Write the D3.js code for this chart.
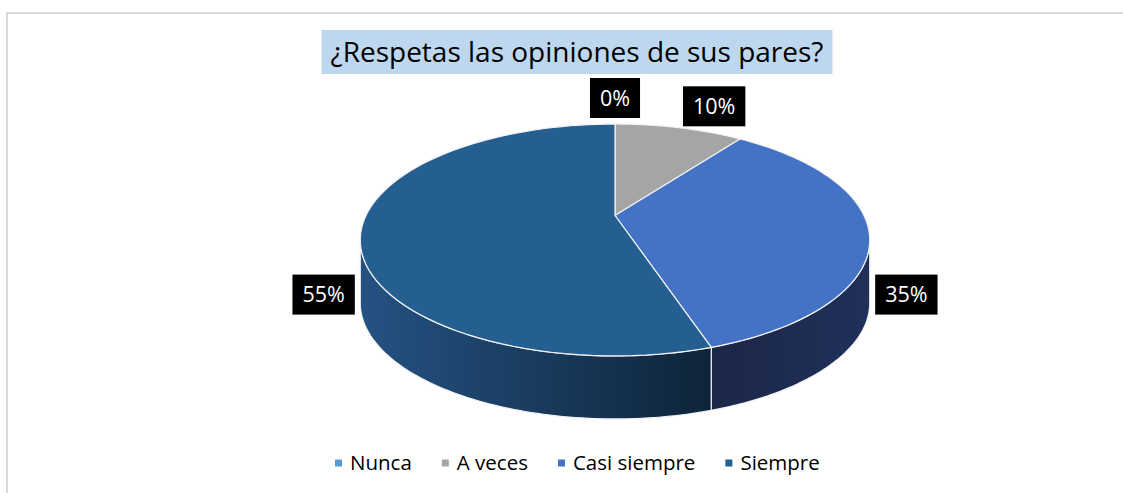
<!DOCTYPE html>
<html>
<head>
<meta charset="utf-8">
<script src="https://cdn.jsdelivr.net/npm/d3@7"></script>
<style>
  body { margin: 0; background: #fff; }
  svg text { font-family: "Open Sans", sans-serif; }
</style>
</head>
<body>
<div id="chart"></div>
<script>
// chart data
const categories = ["Nunca", "A veces", "Casi siempre", "Siempre"];
const values = [0, 10, 35, 55];
const labels = ["0%", "10%", "35%", "55%"];
const topColors = ["#5b9bd5", "#a5a5a5", "#4472c4", "#255e91"];
// side wall shading (left -> right)
const sideColors = [
  ["#41729f", "#2d5378"],
  ["#7c7c7c", "#5c5c5c"],
  ["#1b2748", "#20305a"],
  ["#245283", "#0e2439"]
];
const title = "¿Respetas las opiniones de sus pares?";

const width = 1123, height = 493;
// p = perspective strength (front looks bigger than back)
const pieSpec = { cx: 615, cy: 215.5, rx: 249, ry: 110.8, depth: 63, p: 0.211 };

const svg = d3.select("#chart").append("svg")
  .attr("width", width).attr("height", height);

// chart area border
svg.append("rect")
  .attr("x", 7).attr("y", 13)
  .attr("width", width + 20).attr("height", height + 20)
  .attr("fill", "none").attr("stroke", "#d9d9d9").attr("stroke-width", 2);

const defs = svg.append("defs");

// project an angle (clockwise from top) onto the tilted disc
const proj = (a, dy = 0) => {
  const c = -Math.cos(a);
  const s = 1 / (1 - pieSpec.p * c);
  return [pieSpec.cx + pieSpec.rx * Math.sin(a) * s, pieSpec.cy + pieSpec.ry * c * s + dy];
};

const arcs = d3.pie().sort(null).startAngle(0).endAngle(2 * Math.PI)(values);

const line = d3.line();
const steps = d3.range(0, 81).map(i => i / 80);

// walls: visible between the two silhouette angles
const edgeA = Math.acos(-pieSpec.p);
const front = [edgeA, 2 * Math.PI - edgeA];
arcs.forEach((d, i) => {
  const a0 = Math.max(d.startAngle, front[0]);
  const a1 = Math.min(d.endAngle, front[1]);
  if (a1 <= a0) return;
  const topPts = steps.map(k => proj(a0 + (a1 - a0) * k));
  const botPts = steps.slice().reverse().map(k => proj(a0 + (a1 - a0) * k, pieSpec.depth));

  const gid = "side" + i;
  const g = defs.append("linearGradient").attr("id", gid)
    .attr("x1", "0").attr("x2", "1").attr("y1", "0").attr("y2", "0");
  g.append("stop").attr("offset", "0").attr("stop-color", sideColors[i][0]);
  g.append("stop").attr("offset", "1").attr("stop-color", sideColors[i][1]);

  svg.append("path")
    .attr("d", line(topPts.concat(botPts)) + "Z")
    .attr("fill", `url(#${gid})`)
    .attr("stroke", "#f2f2f2").attr("stroke-width", 1.2)
    .attr("stroke-linejoin", "round");
});

// top faces
arcs.forEach((d, i) => {
  const pts = [[pieSpec.cx, pieSpec.cy]].concat(steps.map(k =>
    proj(d.startAngle + (d.endAngle - d.startAngle) * k)));
  svg.append("path")
    .attr("d", line(pts) + "Z")
    .attr("fill", topColors[i])
    .attr("stroke", "#f2f2f2").attr("stroke-width", 1.2)
    .attr("stroke-linejoin", "round");
});

// data labels (outside end)
const lab = { cx: pieSpec.cx, cy: 268, rx: 295, ry: 170 };
arcs.forEach((d, i) => {
  const m = (d.startAngle + d.endAngle) / 2;
  const x = lab.cx + lab.rx * Math.sin(m) + (m > 0 && m < 0.5 ? 8 : 0);
  const y = lab.cy - lab.ry * Math.cos(m);
  const g = svg.append("g").attr("transform", `translate(${x},${y})`);
  const txt = g.append("text")
    .attr("text-anchor", "middle").attr("dy", "0.36em")
    .attr("font-size", 21.5).attr("fill", "#fff")
    .text(labels[i]);
  const w = txt.node().getComputedTextLength() + 20;
  g.insert("rect", "text")
    .attr("x", -w / 2).attr("y", -20).attr("width", w).attr("height", 40)
    .attr("fill", "#000");
});

// title
const tg = svg.append("g");
const tt = tg.append("text")
  .attr("x", 577).attr("y", 62)
  .attr("text-anchor", "middle").attr("font-size", 28).attr("fill", "#000")
  .text(title);
const tw = tt.node().getComputedTextLength();
tg.insert("rect", "text")
  .attr("x", 577 - tw / 2 - 9).attr("y", 30).attr("width", tw + 18).attr("height", 44)
  .attr("fill", "#bdd7ee");

// legend
const lg = svg.append("g").attr("transform", "translate(335,463)");
let lx = 0;
categories.forEach((c, i) => {
  lg.append("rect").attr("x", lx).attr("y", -3.5).attr("width", 7).attr("height", 7)
    .attr("fill", topColors[i]);
  const t = lg.append("text").attr("x", lx + 15).attr("dy", "0.36em")
    .attr("font-size", 20.5).attr("fill", "#000").text(c);
  lx += 15 + t.node().getComputedTextLength() + 30;
});
</script>
</body>
</html>
